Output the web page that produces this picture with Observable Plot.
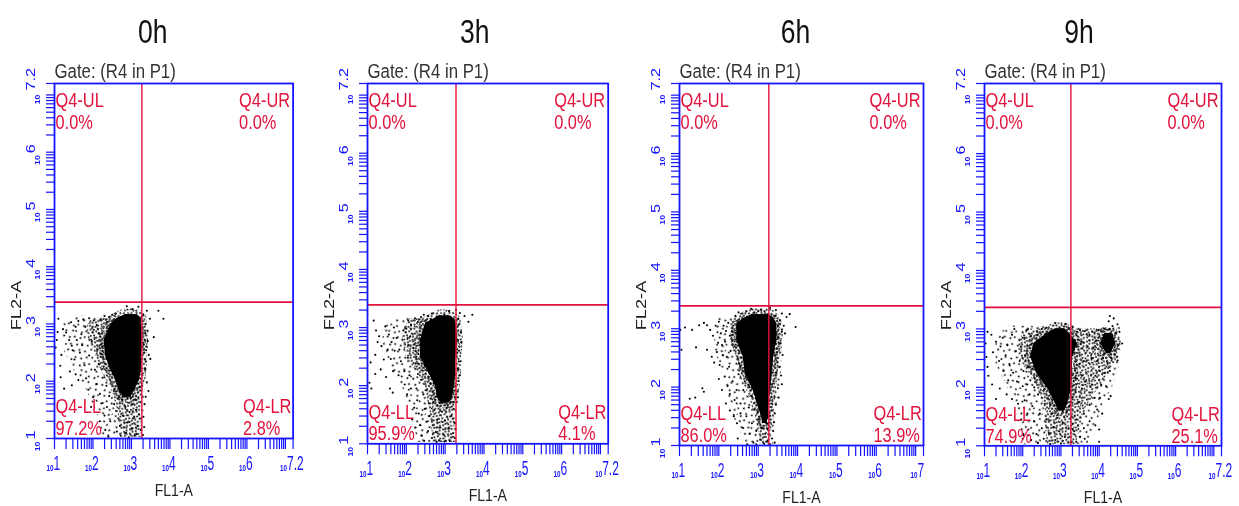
<!DOCTYPE html>
<html><head><meta charset="utf-8">
<script src="https://cdn.jsdelivr.net/npm/d3@7"></script>
<script src="https://cdn.jsdelivr.net/npm/@observablehq/plot@0.6"></script>
<style>
html,body{margin:0;padding:0;background:#fff;width:1239px;height:506px;overflow:hidden}
#chart{position:relative;width:1239px;height:506px;filter:blur(0.5px)}
#chart svg{position:absolute;top:0;background:transparent;max-width:none}
</style></head><body><div id="chart"></div>
<script>
// All event values are log10(FL1-A), log10(FL2-A) estimates.
const titles = ["0h","3h","6h","9h"];
const llPct = ["97.2%","95.9%","86.0%","74.9%"];
const lrPct = ["2.8%","4.1%","13.9%","25.1%"];
const ulPct = "0.0%", urPct = "0.0%";
const gateX = [3.27,3.28,3.27,3.26];
const gateY = [3.38,3.39,3.39,3.37];
const lastLabel = ["7.2","7.2","7","7.2"];

const core0 = {y:[3.16,3.1,3.0,2.71,2.42,2.19,2.01,1.84,1.72],l:[2.85,2.64,2.47,2.29,2.34,2.47,2.60,2.68,2.8],r:[3.15,3.25,3.25,3.29,3.25,3.25,3.2,3.07,2.98]};
const core1 = {y:[3.2,3.15,3.07,2.78,2.49,2.21,1.98,1.8,1.7],l:[2.85,2.72,2.5,2.37,2.37,2.59,2.76,2.8,2.9],r:[3.12,3.23,3.27,3.32,3.27,3.27,3.23,3.19,3.1]};
const core2 = {y:[3.24,3.17,3.09,2.8,2.51,2.23,1.94,1.66,1.49,1.38],l:[2.85,2.63,2.46,2.46,2.63,2.67,2.88,3.01,3.09,3.12],r:[3.28,3.39,3.47,3.47,3.39,3.35,3.31,3.26,3.26,3.22]};
const core3 = {y:[3.0,2.92,2.75,2.52,2.23,1.95,1.72,1.6],l:[2.85,2.65,2.3,2.21,2.38,2.69,2.86,2.95],r:[3.1,3.21,3.43,3.3,3.3,3.26,3.17,3.1]};
const blob3 = {y:[2.92,2.75,2.58],l:[4.15,4.04,4.2],r:[4.35,4.43,4.3]};
const halo0 = {y:[3.1,3.0,2.8,2.5,2.2,1.9,1.6,1.3,1.02],l:[2.2,1.85,1.85,2.05,2.2,2.45,2.6,2.7,2.75],r:[3.3,3.33,3.4,3.35,3.3,3.3,3.28,3.25,3.25]};
const halo1 = {y:[3.15,3.0,2.8,2.5,2.2,1.9,1.6,1.3,1.02],l:[2.1,1.95,1.9,2.0,2.3,2.5,2.6,2.65,2.7],r:[3.3,3.35,3.38,3.32,3.28,3.28,3.25,3.25,3.25]};
const halo2 = {y:[3.25,3.1,2.8,2.5,2.2,1.9,1.6,1.3,1.02],l:[2.7,2.35,2.3,2.45,2.6,2.85,2.95,3.0,3.05],r:[3.4,3.55,3.58,3.55,3.5,3.4,3.38,3.35,3.3]};
const halo3 = {y:[3.0,2.8,2.5,2.2,1.9,1.6,1.3,1.02],l:[2.1,1.9,1.9,2.2,2.45,2.6,2.6,2.65],r:[4.3,4.45,4.5,4.2,3.9,3.6,3.5,3.4]};
const veil0 = {y:[3.15,3.0,2.6,2.2,1.9,1.6,1.3,1.02],l:[1.6,1.2,1.2,1.5,1.8,2.0,2.2,2.2],r:[2.6,3.35,3.45,3.4,3.35,3.35,3.3,3.28]};
const veil1 = {y:[3.2,3.0,2.6,2.2,1.9,1.6,1.3,1.02],l:[1.9,1.4,1.4,1.7,1.95,2.1,2.2,2.3],r:[3.0,3.35,3.4,3.35,3.3,3.3,3.3,3.28]};
const veil2 = {y:[3.2,3.0,2.6,2.3,2.0,1.6,1.3,1.02],l:[2.0,1.9,1.9,2.1,2.2,2.3,2.5,2.7],r:[3.5,3.65,3.6,3.6,3.55,3.45,3.4,3.4]};
const veil3 = {y:[3.05,2.8,2.4,2.0,1.7,1.4,1.02],l:[1.6,1.3,1.3,1.6,1.8,1.9,2.0],r:[4.55,4.6,4.55,4.35,4.1,3.95,3.7]};

const events0 = [[2.88,3.31],[3.03,3.26],[3.18,3.3],[3.4,3.23],[3.7,3.23],[3.83,3.09],[3.48,3.09],[3.58,2.77],[3.49,2.39],[3.42,2.88],[3.38,2.54],[3.36,2.21],[3.4,1.98],[3.37,1.73],[3.34,1.6],[3.31,1.38],[3.33,1.2],[3.3,1.06],
[1.03,2.59],[1.08,2.86],[1.1,3.09],[1.15,2.27],[1.16,2.07],[1.25,1.87],[1.43,3.03],[1.47,2.54],[1.22,2.91],[1.3,2.85],[1.38,2.72],[1.45,2.62],[1.06,2.72],[1.18,2.46],[1.55,2.95],[1.62,3.05],[1.58,2.72],[1.52,2.38],[1.4,2.17],[1.55,2.12],[1.66,2.5],[1.7,2.82],[1.75,3.08],[1.8,2.95],[1.72,2.63],[1.78,2.28],[1.62,2.02],[1.45,1.93],[1.82,2.05],[1.88,1.85],[1.9,2.45],[1.97,2.7],[2.02,3.06],[1.9,3.1],
[2.05,2.2],[2.1,1.95],[2.0,1.72],[1.95,1.55],[2.18,1.78],[2.25,1.62],[2.3,1.4],[2.18,1.3],[2.32,1.15],[2.4,1.03],[2.45,1.3],[2.36,1.55],[2.42,1.74],[2.35,1.92],[2.25,2.06],[2.15,2.3],
[2.55,1.6],[2.6,1.48],[2.66,1.35],[2.7,1.22],[2.62,1.12],[2.72,1.05],[2.78,1.4],[2.84,1.55],[2.9,1.28],[2.95,1.46],[3.0,1.18],[3.04,1.35],[3.08,1.05],[3.12,1.5],[3.16,1.22],[3.2,1.42],[2.86,1.1],[2.93,1.02],[3.02,1.6],[3.1,1.68],[2.76,1.68],[2.68,1.72],[2.58,1.82],[3.18,1.72],[3.22,1.9],[3.24,1.15],[3.13,1.08],[2.82,1.75],[2.98,1.72],
[2.35,3.03],[2.42,3.12],[2.5,3.16],[2.58,3.18],[2.2,3.08],[2.1,2.98],[2.15,2.84],[2.24,2.6],[2.12,2.55],[2.22,2.48],[2.3,3.14],[2.02,2.9],[3.36,3.0],[3.42,2.7],[3.32,2.64],[3.45,2.46],[3.34,2.38],[3.31,3.15],[3.36,2.84],[3.44,1.83]];

const events1 = [[3.1,3.28],[2.98,3.22],[3.28,3.3],[3.38,3.25],[3.5,3.2],[3.7,3.22],[3.6,3.1],[3.35,3.05],[3.4,2.92],[3.42,2.75],[3.36,2.6],[3.4,2.42],[3.34,2.28],[3.35,2.08],[3.32,1.9],[3.33,1.8],
[1.08,2.4],[1.05,2.05],[1.1,1.95],[1.16,3.12],[1.22,2.95],[1.26,2.75],[1.2,2.53],[1.3,2.85],[1.36,2.68],[1.42,2.45],[1.34,2.28],[1.2,2.2],[1.46,3.02],[1.55,2.88],[1.52,2.62],[1.62,2.75],[1.6,2.46],[1.48,2.15],[1.68,3.0],[1.75,2.82],[1.7,2.6],[1.66,2.25],[1.58,1.95],[1.65,1.88],[1.82,2.62],[1.86,2.42],[1.8,2.18],[1.92,2.95],[1.95,2.25],[1.96,2.02],[2.04,2.48],[2.08,2.18],[2.12,1.95],[2.02,1.85],
[2.18,2.12],[2.26,1.95],[2.28,1.75],[2.2,1.62],[2.15,1.42],[2.24,1.28],[2.32,1.52],[2.36,1.32],[2.4,1.14],[2.46,1.05],[2.48,1.6],[2.52,1.38],[2.44,1.85],[2.56,1.22],[2.6,1.48],[2.66,1.1],[2.68,1.32],[2.72,1.58],[2.76,1.2],[2.8,1.42],[2.84,1.06],[2.88,1.28],[2.92,1.55],[2.96,1.16],[3.0,1.4],[3.04,1.62],[3.08,1.26],[3.12,1.05],[3.16,1.48],[3.2,1.18],[3.24,1.36],[3.22,1.6],[2.7,1.72],[2.86,1.7],[3.14,1.72],[2.58,1.7],[2.5,1.92],[3.25,1.1],[2.98,1.04],[2.78,1.03],
[2.3,3.1],[2.22,3.16],[2.12,3.05],[2.05,3.12],[2.0,2.98],[2.1,2.85],[2.18,2.65],[2.24,2.38],[2.05,2.7],[2.38,3.18],[2.45,3.22],[2.56,3.2],[2.3,2.2],[2.38,2.1],[2.66,3.24],[3.34,3.15],[3.3,2.5],[3.38,2.18],[3.3,1.72],[3.27,1.25]];

const events2 = [[3.07,3.33],[3.3,3.36],[3.45,3.32],[3.6,3.26],[3.72,3.2],[3.8,3.25],[3.95,3.03],[3.55,3.15],[3.65,3.05],[3.68,2.92],[3.6,2.95],[3.57,2.75],[3.62,2.55],[3.55,2.35],[3.58,2.2],[3.6,2.05],[3.5,1.98],[3.52,1.82],[3.45,1.7],[3.42,1.55],[3.4,1.4],[3.38,1.25],[3.35,1.12],[3.42,1.05],[3.3,1.02],
[1.02,2.98],[1.14,3.02],[1.32,2.98],[1.5,3.06],[1.62,3.1],[1.7,3.06],[1.78,2.98],[1.85,2.88],[1.92,3.05],[2.0,3.12],[2.05,2.92],[2.12,3.05],[2.18,2.96],[2.24,3.1],[2.28,2.88],[1.98,2.76],[2.08,2.72],[2.16,2.78],[1.7,2.64],[1.82,2.52],[1.88,2.42],[1.95,2.6],[2.02,2.38],[2.1,2.55],[2.2,2.52],[2.26,2.35],[2.3,2.62],[1.05,2.64],[1.42,2.68],[1.4,1.82],[1.58,1.98],[1.62,1.92],[1.26,1.8],[2.0,2.14],[2.08,1.95],[2.15,2.18],[2.22,2.02],[2.28,1.88],[2.35,2.1],[2.4,1.78],[2.45,1.95],[2.5,2.22],[2.55,1.72],[2.62,1.95],[2.66,2.1],[2.18,1.72],[2.28,1.6],[2.38,1.5],[2.46,1.38],[2.55,1.55],[2.62,1.3],[2.7,1.5],[2.76,1.65],[2.48,1.12],[2.78,1.2],[2.84,1.38],[2.9,1.62],[2.95,1.25],[3.0,1.45],[3.05,1.1],[2.88,1.05],[2.95,1.02],[3.1,1.3],[3.15,1.03],[3.18,1.2],[3.22,1.38],[3.24,1.08],[2.72,1.02],[2.82,1.85],[2.78,2.0],
[2.42,3.22],[2.5,3.28],[2.6,3.26],[2.7,3.3],[2.82,3.34],[2.9,3.28],[3.0,3.3],[3.16,3.3],[3.25,3.25],[3.44,3.22],[3.5,3.05],[2.35,2.95],[2.4,2.7],[2.55,2.35],[3.5,2.85],[3.48,2.6],[3.46,2.25]];

const events3 = [[3.2,3.02],[3.04,3.0],[3.5,2.98],[3.62,2.96],[3.75,2.9],[4.28,3.22],[4.25,3.13],[4.38,3.18],[4.35,3.05],[4.48,3.08],[4.42,2.93],[4.53,2.95],[4.6,2.75],[4.5,2.72],[4.28,3.0],[4.13,3.0],[3.98,2.98],[3.88,2.94],[3.92,2.8],[3.85,2.68],[3.8,2.5],[3.95,2.45],[4.1,2.5],[4.22,2.42],[4.32,2.5],[4.4,2.56],[4.48,2.46],[4.02,2.28],[4.15,2.25],[4.28,2.28],[3.9,2.2],[3.82,2.05],[4.05,2.05],[4.18,2.02],[4.3,1.85],[4.25,1.8],[4.02,1.82],[3.88,1.82],[3.75,1.7],[3.95,1.62],[4.08,1.55],[3.6,1.55],[3.75,1.42],[3.9,1.35],[4.0,1.28],[3.6,1.3],[3.5,1.15],[3.62,1.12],[4.0,1.07],[3.4,1.07],[3.35,1.25],[3.4,1.45],[3.45,1.75],[3.55,2.2],[3.6,2.45],[3.7,2.7],
[1.05,2.52],[1.08,2.35],[1.1,2.2],[1.03,2.75],[1.08,2.95],[1.18,2.9],[1.22,2.6],[1.3,2.78],[1.38,2.45],[1.42,2.7],[1.48,2.85],[1.55,2.55],[1.6,2.72],[1.65,2.4],[1.72,2.9],[1.78,3.0],[1.82,2.62],[1.75,2.25],[1.62,2.12],[1.5,2.28],[1.4,1.98],[1.58,1.88],[1.72,1.8],[1.85,2.1],[1.88,1.72],[1.2,2.05],[1.3,1.8],[2.0,2.02],[2.05,1.78],[2.12,1.55],[2.18,1.88],[2.25,1.68],[1.96,1.45],[2.02,1.18],[2.15,1.28],[2.22,1.1],[2.3,1.42],[2.36,1.2],[2.4,1.05],[2.45,1.55],[2.5,1.3],[2.55,1.12],[2.58,1.72],[2.62,1.45],[2.68,1.22],[2.72,1.03],[2.76,1.55],[2.8,1.32],[2.85,1.1],[2.9,1.48],[2.95,1.25],[3.0,1.04],[3.05,1.4],[3.1,1.15],[3.15,1.58],[3.2,1.3],[3.25,1.06],[3.28,1.5],[2.92,1.65],[2.72,1.7],[3.05,1.62],[3.22,1.68],
[2.1,2.98],[2.22,2.88],[2.0,2.85],[1.95,2.7],[2.06,2.55],[1.92,2.45],[2.14,2.35],[2.02,2.28],[2.2,2.12],[2.12,2.05],[2.3,2.0],[2.4,1.88],[2.5,3.0],[2.38,2.95],[2.62,3.02],[2.85,3.1],[3.12,3.08],[3.3,3.04],[3.42,2.95],[3.55,2.78],[3.48,2.4],[3.42,2.15],[3.55,1.98],[3.65,2.1],[3.38,1.92]];

const coreSets = [[core0],[core1],[core2],[core3,blob3]];
const haloSets = [halo0,halo1,halo2,halo3];
const veilSets = [veil0,veil1,veil2,veil3];
const eventSets = [events0,events1,events2,events3];

// Frame placement of each panel in the page
const frameL = [53.7,367,679,984], frameR = [292.3,607.7,923,1221], frameB = [438,443.3,445,445.3];
const titleDx = [-21,-13,-6,-24];

// Speckle texture for the crowded regions of each scatter (a fill style, not data)
const speckle = [[1,2],[4,1],[7,3],[10,0.5],[13,2.5],[16,1],[19,3],[22,1.5],[25,2],[28,0.5],[2,5.5],[5,7],[8,6],[11,4.5],[14,7],[17,5],[20,6.5],[23,5],[26,7],[28.5,5],[0.5,9],[3.5,10.5],[6.5,9.5],[9,11],[12,9],[15,10.5],[18,9],[21,11],[24,9.5],[27,10.5],[2,13.5],[5,14.5],[8,13],[11,15],[14,13],[17,14.5],[20,13.5],[23,15],[26,13],[28.5,14.5],[1,17],[4,18.5],[7,17],[10,19],[13,17.5],[16,19],[19,17],[22,18.5],[25,17.5],[27.5,19],[2.5,21.5],[5.5,22],[8.5,21],[11.5,22.5],[14.5,21],[17.5,22],[20.5,21.5],[23.5,22.5],[26.5,21],[0,22]];
const defs = d3.select("#chart").append("svg").attr("width",0).attr("height",0).append("defs");
[["speckleA","rotate(17)",0.95],["speckleB","rotate(-31) translate(5,3)",0.95],["speckleC","rotate(41) scale(1.75)",0.55]].forEach(([id,tr,r])=>{
  const p=defs.append("pattern").attr("id",id).attr("patternUnits","userSpaceOnUse").attr("width",29).attr("height",23).attr("patternTransform",tr);
  p.selectAll("circle").data(speckle).join("circle").attr("cx",d=>d[0]).attr("cy",d=>d[1]).attr("r",r).attr("fill","#000");
});

const BLUE="#1414ff", RED="#e2123c", FONT="'Liberation Sans',sans-serif";
const decades=[1,2,3,4,5,6,7];
const midDecades=[1,2,3,4,5,6];
const logTicks=[];
for(const d of decades) for(let k=1;k<10;k++){const v=k*10**d; if(v<=10**7.2) logTicks.push(v);}
logTicks.push(10**7.2);
const toArea=a=>a.y.map((y,i)=>({y:10**y,x1:10**a.l[i],x2:10**a.r[i]}));

function panel(i){
  const q=(text,anchor,dx,dy)=>Plot.text([text],{text:d=>d,frameAnchor:anchor,textAnchor:"start",lineAnchor:"middle",dx,dy,fontFamily:FONT,fill:RED,fontSize:21,className:"sx78"});
  const xExp={frameAnchor:"bottom",lineAnchor:"middle",dy:25,textAnchor:"start",fontSize:20,fill:BLUE,fontFamily:FONT,className:"sx60"};
  const xTen={frameAnchor:"bottom",lineAnchor:"middle",dy:30,textAnchor:"end",fontSize:9,fontWeight:"bold",fill:BLUE,fontFamily:FONT,className:"sx70"};
  const yExp={frameAnchor:"left",lineAnchor:"middle",dx:-24,rotate:-90,textAnchor:"start",fontSize:13,fill:BLUE,fontFamily:FONT,className:"sx125"};
  const yTen={frameAnchor:"left",lineAnchor:"middle",dx:-17,rotate:-90,textAnchor:"end",fontSize:8,fontWeight:"bold",fill:BLUE,fontFamily:FONT,className:"sx110"};
  const marks=[
    Plot.areaX(toArea(veilSets[i]),{y:"y",x1:"x1",x2:"x2",fill:"url(#speckleC)"}),
    Plot.areaX(toArea(haloSets[i]),{y:"y",x1:"x1",x2:"x2",fill:"url(#speckleA)"}),
    ...coreSets[i].map(c=>Plot.areaX(toArea(c),{y:"y",x1:"x1",x2:"x2",fill:"#000",stroke:"url(#speckleB)",strokeWidth:12})),
    ...coreSets[i].map(c=>Plot.areaX(toArea(c),{y:"y",x1:"x1",x2:"x2",fill:"#000"})),
    Plot.dot(eventSets[i],{x:d=>10**d[0],y:d=>10**d[1],r:1.05,fill:"#000",stroke:null}),
    Plot.ruleX([10**gateX[i]],{stroke:RED,strokeWidth:1.4}),
    Plot.ruleY([10**gateY[i]],{stroke:RED,strokeWidth:1.7}),
    Plot.axisX(logTicks,{anchor:"bottom",tickSize:11,tickFormat:()=>"",stroke:BLUE,strokeWidth:1.2,label:null}),
    Plot.axisY(logTicks,{anchor:"left",tickSize:8,tickFormat:()=>"",stroke:BLUE,strokeWidth:1.2,label:null}),
    Plot.frame({stroke:BLUE,strokeWidth:1.8}),
    // x tick labels
    Plot.text(midDecades,{...xTen,x:d=>10**d,text:()=>"10",dx:-1}),
    Plot.text(midDecades,{...xExp,x:d=>10**d,text:d=>String(d),dx:-1}),
    Plot.text([7.2],{...xTen,x:d=>10**d,text:()=>"10",dx:-6}),
    Plot.text([7.2],{...xExp,x:d=>10**d,text:()=>lastLabel[i],dx:-6}),
    // y tick labels
    Plot.text(midDecades,{...yTen,y:d=>10**d,text:()=>"10",dy:3}),
    Plot.text(midDecades,{...yExp,y:d=>10**d,text:d=>String(d),dy:1}),
    Plot.text([7.2],{...yTen,y:d=>10**d,text:()=>"10",dy:11}),
    Plot.text([7.2],{...yExp,y:d=>10**d,text:()=>"7.2",dy:7}),
    // quadrant labels
    q("Q4-UL","top-left",1,17), q(ulPct,"top-left",1,39),
    q("Q4-UR","top-right",-54,17), q(urPct,"top-right",-54,39),
    q("Q4-LL","bottom-left",1,-32), q(llPct[i],"bottom-left",1,-10),
    q("Q4-LR","bottom-right",-50,-32), q(lrPct[i],"bottom-right",-50,-10),
    // titles
    Plot.text([titles[i]],{text:d=>d,frameAnchor:"top",lineAnchor:"middle",dx:titleDx[i],dy:-51,fontSize:34,fill:"#111",fontFamily:FONT,className:"sx78"}),
    Plot.text(["Gate: (R4 in P1)"],{text:d=>d,frameAnchor:"top-left",lineAnchor:"middle",dy:-12,textAnchor:"start",fontSize:21,fill:"#333",fontFamily:FONT,className:"sx80"}),
    Plot.text(["FL2-A"],{text:d=>d,frameAnchor:"left",lineAnchor:"middle",textAnchor:"middle",dx:-38,dy:(305-(83+frameB[i])/2),rotate:-90,fontSize:14,fill:"#222",fontFamily:FONT,className:"sx130"}),
    Plot.text(["FL1-A"],{text:d=>d,frameAnchor:"bottom",lineAnchor:"middle",dy:52,fontSize:16,fill:"#222",fontFamily:FONT,className:"sx88"})
  ];
  const svg=Plot.plot({
    width:frameR[i]-frameL[i]+53+18, height:506,
    marginLeft:53, marginRight:18, marginTop:83, marginBottom:506-frameB[i],
    x:{type:"log",domain:[10,10**7.2],axis:null},
    y:{type:"log",domain:[10,10**7.2],axis:null},
    marks
  });
  svg.style.left=(frameL[i]-53)+"px";
  d3.select(svg).selectAll("g[class*='sx'] text").each(function(){
    const m=/sx(\d+)/.exec(this.parentNode.getAttribute("class"));
    const t=this.getAttribute("transform")||"";
    this.setAttribute("transform",t+" scale("+(m[1]/100)+",1)");
  });
  document.getElementById("chart").append(svg);
}
titles.forEach((_,i)=>panel(i));
</script></body></html>
